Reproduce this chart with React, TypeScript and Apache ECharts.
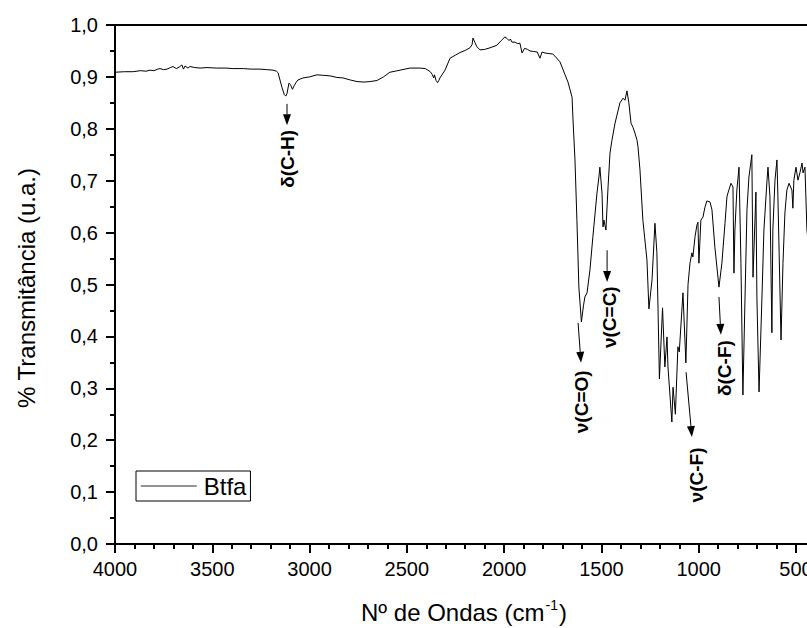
import React, { useEffect, useRef } from 'react';
import * as echarts from 'echarts';

// Wavenumber (cm-1) and transmittance
const wavenumbers = [
  4000, 3950, 3907, 3870, 3840, 3820, 3800, 3780, 3769, 3750, 3733, 3715, 3702, 3685, 3670, 3656, 3648, 3640, 3625, 3615,
  3590, 3563, 3527, 3480, 3430, 3394, 3340, 3300, 3255, 3220, 3188, 3170, 3162, 3152, 3142, 3130, 3122, 3116, 3106, 3098,
  3088, 3078, 3070, 3060, 3034, 3000, 2962, 2930, 2895, 2860, 2828, 2790, 2756, 2720, 2690, 2654, 2620, 2587, 2560, 2535,
  2484, 2433, 2405, 2392, 2380, 2370, 2362, 2358, 2350, 2342, 2336, 2330, 2304, 2278, 2250, 2227, 2200, 2176, 2165, 2160,
  2150, 2140, 2124, 2100, 2073, 2037, 2015, 1996, 1985, 1975, 1968, 1960, 1944, 1930, 1919, 1908, 1895, 1880, 1867, 1850,
  1830, 1816, 1805, 1790, 1770, 1750, 1739, 1713, 1687, 1672, 1651, 1646, 1636, 1626, 1616, 1603, 1592, 1585, 1574, 1559,
  1544, 1523, 1513, 1508, 1497, 1492, 1487, 1477, 1466, 1456, 1446, 1430, 1405, 1389, 1379, 1369, 1359, 1348, 1338, 1328,
  1317, 1312, 1302, 1287, 1266, 1256, 1240, 1225, 1215, 1202, 1186, 1174, 1163, 1158, 1138, 1132, 1120, 1107, 1100, 1081,
  1066, 1055, 1045, 1035, 1030, 1019, 1009, 1004, 999, 989, 978, 968, 958, 942, 932, 917, 896, 881, 865, 855,
  850, 840, 834, 824, 819, 814, 804, 793, 783, 773, 762, 752, 742, 727, 721, 706, 701, 690, 675, 665,
  649, 644, 634, 624, 619, 608, 598, 593, 577, 567, 557, 547, 536, 521, 516, 511, 500, 490, 480, 469,
  464, 454, 444, 436
];
const transmittance = [
  0.909, 0.910, 0.910, 0.912, 0.911, 0.913, 0.912, 0.915, 0.916, 0.914, 0.915, 0.918, 0.920, 0.916, 0.919, 0.923, 0.915, 0.921, 0.917, 0.920,
  0.918, 0.917, 0.918, 0.917, 0.917, 0.916, 0.916, 0.915, 0.915, 0.914, 0.913, 0.911, 0.908, 0.894, 0.880, 0.866, 0.863, 0.868, 0.888, 0.885,
  0.876, 0.884, 0.889, 0.894, 0.898, 0.900, 0.904, 0.903, 0.902, 0.899, 0.898, 0.894, 0.891, 0.890, 0.891, 0.893, 0.900, 0.909, 0.911, 0.913,
  0.917, 0.917, 0.916, 0.913, 0.910, 0.905, 0.898, 0.904, 0.893, 0.889, 0.893, 0.898, 0.913, 0.936, 0.942, 0.947, 0.951, 0.956, 0.962, 0.975,
  0.966, 0.958, 0.952, 0.953, 0.956, 0.961, 0.970, 0.977, 0.974, 0.970, 0.973, 0.967, 0.967, 0.964, 0.965, 0.946, 0.955, 0.953, 0.950, 0.949,
  0.948, 0.936, 0.948, 0.946, 0.945, 0.944, 0.940, 0.929, 0.904, 0.890, 0.861, 0.817, 0.740, 0.624, 0.495, 0.428, 0.460, 0.476, 0.484, 0.528,
  0.592, 0.676, 0.707, 0.726, 0.676, 0.611, 0.624, 0.605, 0.688, 0.753, 0.778, 0.811, 0.850, 0.859, 0.855, 0.873, 0.850, 0.811, 0.803, 0.792,
  0.778, 0.765, 0.721, 0.624, 0.547, 0.453, 0.509, 0.618, 0.561, 0.318, 0.455, 0.341, 0.399, 0.341, 0.235, 0.302, 0.250, 0.380, 0.370, 0.484,
  0.349, 0.500, 0.541, 0.561, 0.553, 0.592, 0.615, 0.620, 0.541, 0.624, 0.630, 0.649, 0.661, 0.659, 0.644, 0.572, 0.495, 0.541, 0.618, 0.669,
  0.676, 0.688, 0.695, 0.688, 0.522, 0.605, 0.682, 0.726, 0.541, 0.287, 0.476, 0.644, 0.707, 0.750, 0.514, 0.678, 0.476, 0.293, 0.476, 0.605,
  0.701, 0.726, 0.669, 0.407, 0.605, 0.701, 0.740, 0.669, 0.393, 0.541, 0.638, 0.682, 0.695, 0.682, 0.647, 0.701, 0.726, 0.701, 0.715, 0.734,
  0.715, 0.726, 0.605, 0.580
];

const seriesName = 'Btfa';
const xAxisTitle = 'Nº de Ondas (cm';
const xAxisTitleSup = '-1';
const yAxisTitle = '% Transmitância (u.a.)';

// Band assignments: label, arrow start/end (wavenumber, value), label centre
const annotationLabels = ['δ(C-H)', 'ν(C=O)', 'ν(C=C)', 'ν(C-F)', 'δ(C-F)'];
const arrowStart = [[3116, 0.848], [1620, 0.426], [1471, 0.566], [1065, 0.331], [896, 0.476]];
const arrowEnd = [[3116, 0.807], [1605, 0.349], [1471, 0.505], [1035, 0.206], [886, 0.403]];
const labelCentre = [[3111, 0.742], [1605, 0.274], [1461, 0.437], [1014, 0.133], [870, 0.339]];

const FONT = '"Liberation Sans", Arial, Helvetica, sans-serif';

export default function App() {
  const ref = useRef<HTMLDivElement>(null);

  useEffect(() => {
    if (!ref.current) return;
    const chart = echarts.init(ref.current, null, { renderer: 'svg' });
    const data = wavenumbers.map((w, i) => [w, transmittance[i]]);

    const axisLineStyle = { color: '#000', width: 2 };
    chart.setOption({
      animation: false,
      backgroundColor: '#fff',
      grid: { left: 115, top: 25, width: 778.3, height: 519, containLabel: false },
      legend: {
        data: [seriesName],
        left: 136,
        top: 471,
        orient: 'horizontal',
        itemWidth: 56,
        itemHeight: 14,
        borderColor: '#000',
        borderWidth: 1,
        borderRadius: 0,
        padding: [3, 4, 3, 4],
        lineStyle: { color: '#707070', width: 1.5 },
        itemStyle: { opacity: 0, borderWidth: 0 },
        textStyle: { fontFamily: FONT, fontSize: 24, color: '#000', padding: [0, 0, 0, 2] },
      },
      xAxis: [
        {
          type: 'value',
          inverse: true,
          min: 0,
          max: 4000,
          interval: 500,
          position: 'bottom',
          axisLine: { show: true, onZero: false, lineStyle: axisLineStyle },
          axisTick: { show: true, inside: false, length: 9, lineStyle: axisLineStyle },
          minorTick: { show: true, splitNumber: 5, length: 5, lineStyle: axisLineStyle },
          splitLine: { show: false },
          minorSplitLine: { show: false },
          axisLabel: {
            fontFamily: FONT,
            fontSize: 20,
            color: '#000',
            margin: 15,
            formatter: (v: number) => (v === 0 ? '' : String(v)),
          },
        },
        {
          type: 'value',
          inverse: true,
          min: 0,
          max: 4000,
          position: 'top',
          axisLine: { show: true, onZero: false, lineStyle: axisLineStyle },
          axisTick: { show: false },
          axisLabel: { show: false },
          splitLine: { show: false },
        },
      ],
      yAxis: {
        type: 'value',
        min: 0,
        max: 1,
        interval: 0.1,
        position: 'left',
        axisLine: { show: true, onZero: false, lineStyle: axisLineStyle },
        axisTick: { show: true, inside: false, length: 9, lineStyle: axisLineStyle },
        minorTick: { show: true, splitNumber: 2, length: 5, lineStyle: axisLineStyle },
        splitLine: { show: false },
        minorSplitLine: { show: false },
        axisLabel: {
          fontFamily: FONT,
          fontSize: 20,
          color: '#000',
          margin: 17,
          formatter: (v: number) => v.toFixed(1).replace('.', ','),
        },
      },
      series: [
        {
          name: seriesName,
          type: 'line',
          xAxisIndex: 0,
          yAxisIndex: 0,
          data,
          symbol: 'none',
          showSymbol: false,
          lineStyle: { color: '#000', width: 1 },
          itemStyle: { color: '#000' },
        },
      ],
    });

    const px = (p: number[]) => chart.convertToPixel({ xAxisIndex: 0, yAxisIndex: 0 }, p) as number[];

    const graphics: any[] = [];
    annotationLabels.forEach((label, i) => {
      const s = px(arrowStart[i]);
      const e = px(arrowEnd[i]);
      const c = px(labelCentre[i]);
      const dx = e[0] - s[0];
      const dy = e[1] - s[1];
      const len = Math.sqrt(dx * dx + dy * dy);
      const ux = dx / len;
      const uy = dy / len;
      const headL = 11;
      const headW = 4;
      const bx = e[0] - ux * headL;
      const by = e[1] - uy * headL;
      graphics.push({
        type: 'line',
        shape: { x1: s[0], y1: s[1], x2: bx, y2: by },
        style: { stroke: '#000', lineWidth: 1 },
        z: 10,
      });
      graphics.push({
        type: 'polygon',
        shape: {
          points: [
            [e[0], e[1]],
            [bx - uy * headW, by + ux * headW],
            [bx + uy * headW, by - ux * headW],
          ],
        },
        style: { fill: '#000' },
        z: 10,
      });
      graphics.push({
        type: 'text',
        x: c[0],
        y: c[1],
        rotation: Math.PI / 2,
        style: {
          text: label,
          fontFamily: FONT,
          fontWeight: 'bold',
          fontSize: 19,
          fill: '#000',
          align: 'center',
          verticalAlign: 'middle',
        },
        z: 10,
      });
    });

    graphics.push({
      type: 'text',
      x: 464,
      y: 612,
      style: {
        text: `{n|${xAxisTitle}}{s|${xAxisTitleSup}}{n|)}`,
        align: 'center',
        verticalAlign: 'middle',
        rich: {
          n: { fontFamily: FONT, fontSize: 24, fill: '#000', color: '#000', lineHeight: 28 },
          s: { fontFamily: FONT, fontSize: 14, fill: '#000', color: '#000', lineHeight: 28, verticalAlign: 'top', padding: [0, 1, 12, 1] },
        },
      },
    });
    graphics.push({
      type: 'text',
      x: 26,
      y: 288,
      rotation: Math.PI / 2,
      style: {
        text: yAxisTitle,
        fontFamily: FONT,
        fontSize: 24,
        fill: '#000',
        align: 'center',
        verticalAlign: 'middle',
      },
    });

    chart.setOption({ graphic: graphics });

    return () => chart.dispose();
  }, []);

  return (
    <div
      style={{
        position: 'absolute',
        left: 0,
        top: 0,
        width: 807,
        height: 628,
        overflow: 'hidden',
        background: '#fff',
      }}
    >
      <div ref={ref} style={{ width: 900, height: 628 }} />
    </div>
  );
}
